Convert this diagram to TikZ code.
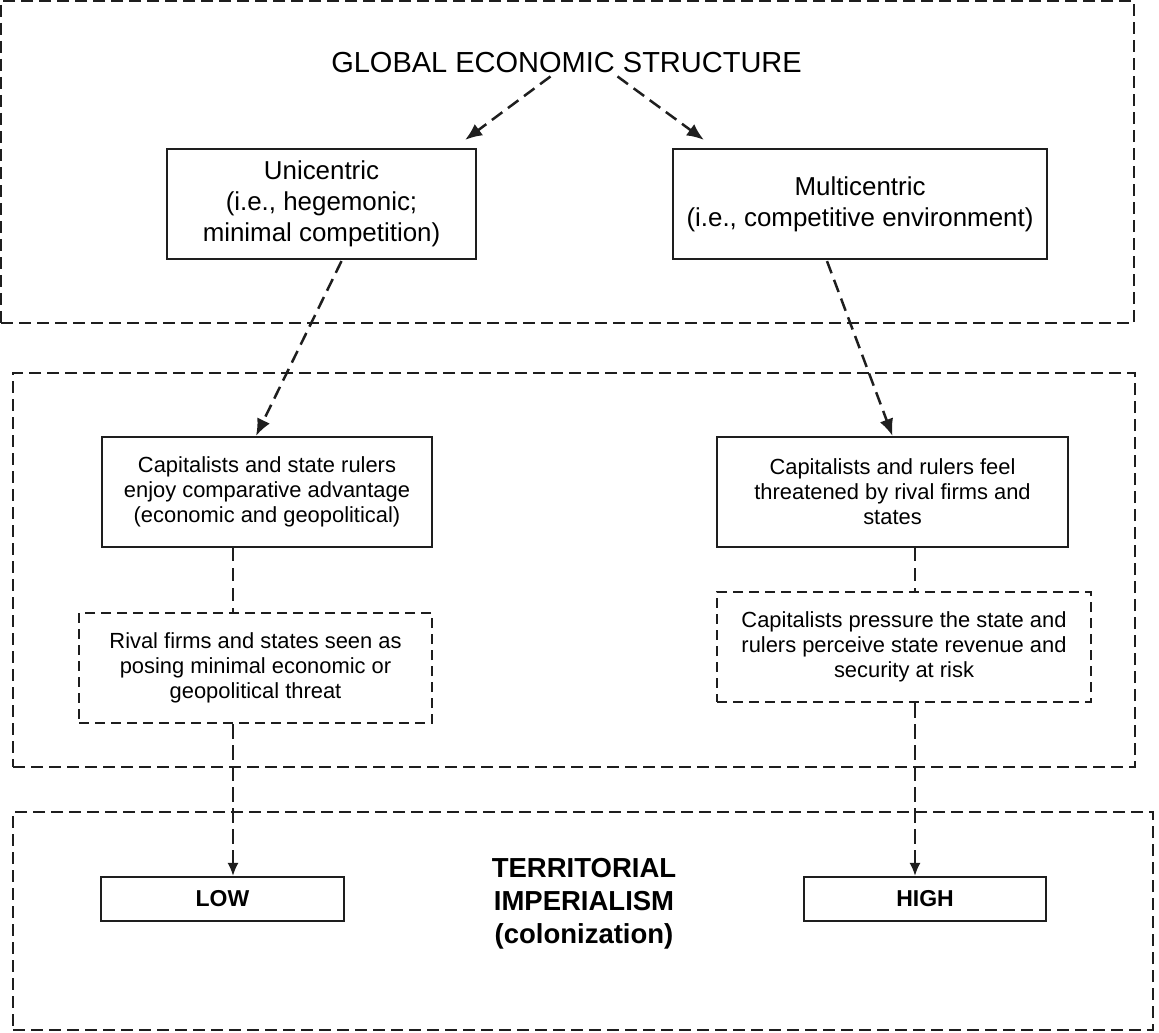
\documentclass[tikz,border=0pt]{standalone}
\usepackage{fontspec}
\setmainfont{Liberation Sans}
\usetikzlibrary{arrows.meta,calc}
\definecolor{ink}{RGB}{30,30,30}
\begin{document}
\begin{tikzpicture}[x=1pt,y=-1pt,
  frame/.style={draw=ink, line width=2.5pt, dash pattern=on 12pt off 6pt, inner sep=0pt},
  sbox/.style={draw=ink, line width=2.2pt, inner sep=0pt, align=center},
  dbox/.style={draw=ink, line width=2.3pt, dash pattern=on 10pt off 6pt, inner sep=0pt, align=center},
  bigfont/.style={font=\fontsize{25.9}{31}\selectfont},
  midfont/.style={font=\fontsize{21.9}{25}\selectfont},
  conn/.style={draw=ink, line width=2.5pt, dash pattern=on 13pt off 7pt},
  bigarrow/.style={conn, -{Latex[length=17pt,width=14pt]}},
  thinarrow/.style={draw=ink, line width=1.8pt, dash pattern=on 15pt off 6pt, -{Latex[length=13pt,width=11pt]}}
]
\useasboundingbox (0,0) rectangle (1159,1033);

% frames
\node[frame, minimum width=1133pt, minimum height=322pt] (frameA) at (567.5,162) {};
\node[frame, minimum width=1122pt, minimum height=394pt] (frameB) at (574,570) {};
\node[frame, minimum width=1140pt, minimum height=218pt] (frameC) at (583,921) {};

% title
\node[font=\fontsize{29}{34}\selectfont, inner sep=0pt] (title) at (566.5,63) {GLOBAL ECONOMIC STRUCTURE};

% top boxes
\node[sbox, bigfont, minimum width=309pt, minimum height=110pt] (uni) at (321.5,204)
  {Unicentric\\(i.e., hegemonic;\\minimal competition)};
\node[sbox, bigfont, minimum width=374pt, minimum height=110pt] (multi) at (860,204)
  {Multicentric\\(i.e., competitive environment)};

% middle boxes
\node[sbox, midfont, minimum width=330pt, minimum height=110pt] (capL) at (267,492)
  {Capitalists and state rulers\\enjoy comparative advantage\\(economic and geopolitical)};
\node[dbox, midfont, minimum width=353pt, minimum height=110pt] (rival) at (255.5,668)
  {Rival firms and states seen as\\posing minimal economic or\\geopolitical threat};
\node[sbox, midfont, minimum width=351pt, minimum height=110pt] (capR) at (892.5,492)
  {Capitalists and rulers feel\\threatened by rival firms and\\states};
\node[dbox, midfont, minimum width=374pt, minimum height=110pt] (press) at (904,647)
  {Capitalists pressure the state and\\rulers perceive state revenue and\\security at risk};

% bottom boxes
\node[sbox, font=\bfseries\fontsize{23}{28}\selectfont, minimum width=243pt, minimum height=44pt] (low) at (222.5,899) {LOW};
\node[sbox, font=\bfseries\fontsize{23}{28}\selectfont, minimum width=242pt, minimum height=44pt] (high) at (925,899) {HIGH};
\node[font=\bfseries\fontsize{27.5}{33}\selectfont, align=center, inner sep=0pt] (terr) at (584,904)
  {TERRITORIAL\\IMPERIALISM\\(colonization)};

% arrows from title
\draw[bigarrow] ([xshift=-16pt,yshift=-3pt]title.south) -- ([xshift=-12pt,yshift=8pt]uni.north east);
\draw[bigarrow] ([xshift=51pt,yshift=-3pt]title.south) -- ([xshift=32pt,yshift=8pt]multi.north west);

% arrows to middle boxes
\draw[bigarrow] ([xshift=20pt,yshift=-1pt]uni.south) -- ([xshift=-11pt]capL.north);
\draw[bigarrow] ([xshift=-33pt,yshift=-1pt]multi.south) -- (capR.north);

% vertical connectors
\draw[conn] ([xshift=-34pt]capL.south) -- ([xshift=-34pt]capL.south |- rival.north);
\draw[conn] ([xshift=22.5pt]capR.south) -- ([xshift=22.5pt]capR.south |- press.north);
\draw[thinarrow] ([xshift=-22.5pt]rival.south) -- ([xshift=-22.5pt]rival.south |- low.north);
\draw[thinarrow] ([xshift=11pt]press.south) -- ([xshift=11pt]press.south |- high.north);
\end{tikzpicture}
\end{document}
